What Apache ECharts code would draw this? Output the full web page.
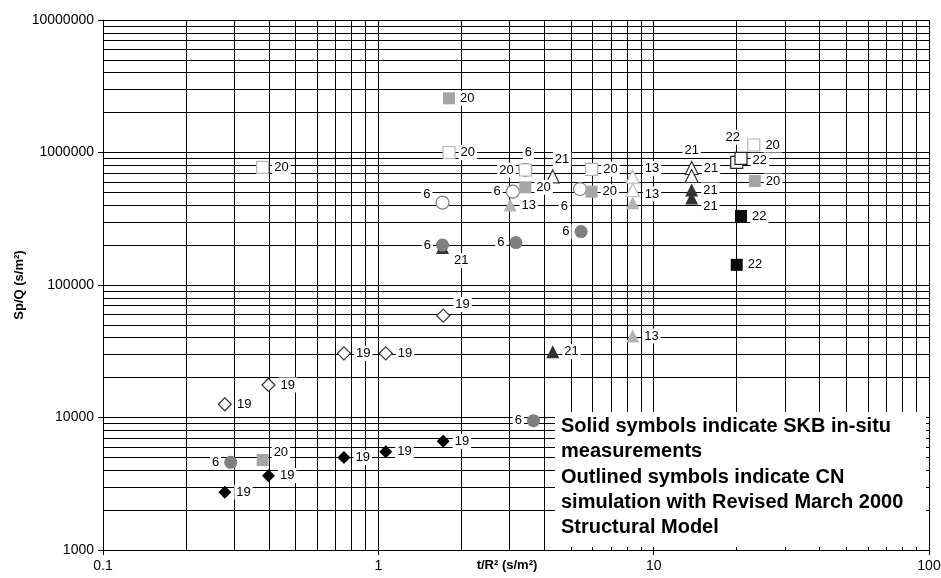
<!DOCTYPE html>
<html><head><meta charset="utf-8">
<script src="https://cdn.jsdelivr.net/npm/echarts@6/dist/echarts.min.js"></script>
<style>html,body{margin:0;padding:0;background:#fff}#c{width:941px;height:578px}</style>
</head><body><div id="c"></div>
<script>
// ---------- data ----------
const xTickLabels = ['0.1', '1', '10', '100'];
const yTickLabels = ['1000', '10000', '100000', '1000000', '10000000'];
const gridMultipliers = [1, 2, 3, 4, 5, 6, 7, 8, 9];
const xDecades = [0.1, 1, 10];
const yDecades = [1000, 10000, 100000, 1000000];

// well 6
const w6Solid = [[0.291, 4590], [1.71, 200000], [3.16, 209000], [5.45, 253000], [3.66, 9460]];
const w6Sim = [[1.71, 418000], [3.08, 506000], [5.40, 530000], [3.42, 740000]];
// well 13
const w13Solid = [[3.01, 402000], [8.39, 418000], [8.39, 41200]];
const w13Sim = [[8.39, 657000], [8.39, 521000]];
// well 19
const w19Solid = [[0.277, 2730], [0.399, 3640], [0.75, 5000], [1.064, 5520], [1.72, 6610]];
const w19Sim = [[0.277, 12580], [0.399, 17600], [0.75, 30500], [1.064, 30500], [1.72, 58700]];
// well 20
const w20Solid = [[1.806, 2565000], [0.380, 4780], [3.42, 546000], [5.95, 506000], [23.3, 609000]];
const w20Sim = [[0.380, 773000], [1.806, 1000000], [3.42, 738000], [5.95, 747000], [23.1, 1139000]];
// well 21
const w21Solid = [[1.71, 192000], [4.30, 31400], [13.74, 521000], [13.74, 454000]];
const w21Sim = [[13.74, 764000], [13.74, 665000], [4.30, 660000]];
// well 22
const w22Solid = [[20.76, 332000], [20.03, 142000]];
const w22Sim = [[20.03, 843000], [20.76, 904000]];

const noteLines = [
  'Solid symbols indicate SKB in-situ',
  'measurements',
  'Outlined symbols indicate CN',
  'simulation with Revised March 2000',
  'Structural Model'
];

// ---------- label placement (style, separate from data) ----------
const place = {
  w6Solid: [['left'], ['left'], ['left'], ['left'], ['left']],
  w6Sim: [['left', [0, -8]], ['left'], ['left', [0, 17]], ['top', [3, 0]]],
  w13Solid: [['right'], [null], ['right']],
  w13Sim: [['right', [0, -8]], ['right', [0, 4]]],
  w19Solid: [['right'], ['right'], ['right'], ['right'], ['right']],
  w19Sim: [['right'], ['right'], ['right'], ['right'], ['right', [0, -11]]],
  w20Solid: [['right'], ['right', [0, -8]], ['right'], ['right'], ['right']],
  w20Sim: [['right'], ['right'], ['left'], ['right'], ['right']],
  w21Solid: [['right', [0, 13]], ['right'], ['right'], ['right', [0, 8]]],
  w21Sim: [['top'], ['right', [0, -8]], ['right', [-10, -17]]],
  w22Solid: [['right'], ['right']],
  w22Sim: [['top', [-4, -8]], ['right', [0, 2]]]
};

const FONT = '"Liberation Sans", Arial, sans-serif';

function mk(name, key, data, symbol, fill, stroke, size, z) {
  const pl = place[key];
  return {
    type: 'scatter', name: name, z: z || 4, symbol: symbol, symbolSize: size,
    itemStyle: { color: fill, borderColor: stroke, borderWidth: stroke ? 1.2 : 0, opacity: 1 },
    label: {
      show: true, formatter: name, fontFamily: FONT, fontSize: 13, color: '#000',
      backgroundColor: '#fff', padding: [1, 2], distance: 3
    },
    emphasis: { disabled: true },
    data: data.map((d, i) => {
      const p = pl[i] || ['right'];
      const item = { value: d };
      if (p[0] === null) item.label = { show: false };
      else item.label = { position: p[0], offset: p[1] || [0, 0] };
      return item;
    })
  };
}

const xGrid = [];
xDecades.forEach(d => gridMultipliers.forEach(m => xGrid.push(+(d * m).toPrecision(6))));
xGrid.push(100);
const yGrid = [];
yDecades.forEach(d => gridMultipliers.forEach(m => yGrid.push(d * m)));
yGrid.push(10000000);

const chart = echarts.init(document.getElementById('c'), null, { renderer: 'canvas' });
chart.setOption({
  animation: false,
  backgroundColor: '#fff',
  grid: { left: 103, right: 12, top: 20, bottom: 28, containLabel: false, outerBoundsMode: 'none' },
  xAxis: {
    type: 'log', logBase: 10, min: 0.1, max: 100, z: 3,
    name: 't/R² (s/m²)', nameLocation: 'middle', nameGap: 9, nameMoveOverlap: false,
    nameTextStyle: { fontFamily: FONT, fontWeight: 'bold', fontSize: 13, color: '#000', padding: [0, 18, 0, 0] },
    axisLine: { show: true, lineStyle: { color: '#000', width: 1 } },
    axisTick: { show: true, length: 5, lineStyle: { color: '#000' } },
    axisLabel: {
      fontFamily: FONT, fontSize: 14, color: '#000', margin: 9,
      formatter: v => xTickLabels.find(t => Math.abs(+t - v) / v < 1e-6) || ''
    },
    splitLine: { show: false }
  },
  yAxis: {
    type: 'log', logBase: 10, min: 1000, max: 10000000, z: 3,
    name: 'Sp/Q (s/m²)', nameLocation: 'middle', nameGap: 77, nameMoveOverlap: false,
    nameTextStyle: { fontFamily: FONT, fontWeight: 'bold', fontSize: 13, color: '#000' },
    axisLine: { show: true, lineStyle: { color: '#000', width: 1 } },
    axisTick: { show: true, length: 5, lineStyle: { color: '#000' } },
    axisLabel: {
      fontFamily: FONT, fontSize: 14, color: '#000', margin: 9,
      formatter: v => yTickLabels.find(t => Math.abs(+t - v) / v < 1e-6) || ''
    },
    splitLine: { show: false }
  },
  graphic: [
    { type: 'rect', z: 2, shape: { x: 555, y: 412, width: 371, height: 135 }, style: { fill: '#fff' } },
    {
      type: 'text', z: 2, left: 561, top: 414,
      style: { text: noteLines.join('\n'), font: 'bold 20px ' + FONT, lineHeight: 25.3, fill: '#000' }
    }
  ],
  series: [
    {
      type: 'scatter', z: 1, data: [], silent: true,
      markLine: {
        z: 1, silent: true, symbol: 'none', animation: false,
        label: { show: false },
        lineStyle: { color: '#000', width: 1, type: 'solid' },
        emphasis: { disabled: true },
        data: xGrid.map(v => ({ xAxis: v })).concat(yGrid.map(v => ({ yAxis: v })))
      }
    },
    mk('19', 'w19Sim', w19Sim, 'diamond', '#fff', '#333', 13),
    mk('19', 'w19Solid', w19Solid, 'diamond', '#000', null, 13),
    mk('6', 'w6Sim', w6Sim, 'circle', '#fff', '#808080', 13),
    mk('20', 'w20Sim', w20Sim, 'rect', '#fff', '#b4b4b4', 12),
    mk('13', 'w13Sim', w13Sim, 'triangle', '#fff', '#bdbdbd', 13),
    mk('21', 'w21Sim', w21Sim, 'triangle', '#fff', '#333', 13),
    mk('22', 'w22Sim', w22Sim, 'rect', '#fff', '#222', 12),
    mk('21', 'w21Solid', w21Solid, 'triangle', '#333', null, 13),
    mk('13', 'w13Solid', w13Solid, 'triangle', '#b4b4b4', null, 13),
    mk('6', 'w6Solid', w6Solid, 'circle', '#7f7f7f', null, 13),
    mk('20', 'w20Solid', w20Solid, 'rect', '#a6a6a6', null, 12),
    mk('22', 'w22Solid', w22Solid, 'rect', '#0a0a0a', null, 12)
  ]
});
</script>
</body></html>
